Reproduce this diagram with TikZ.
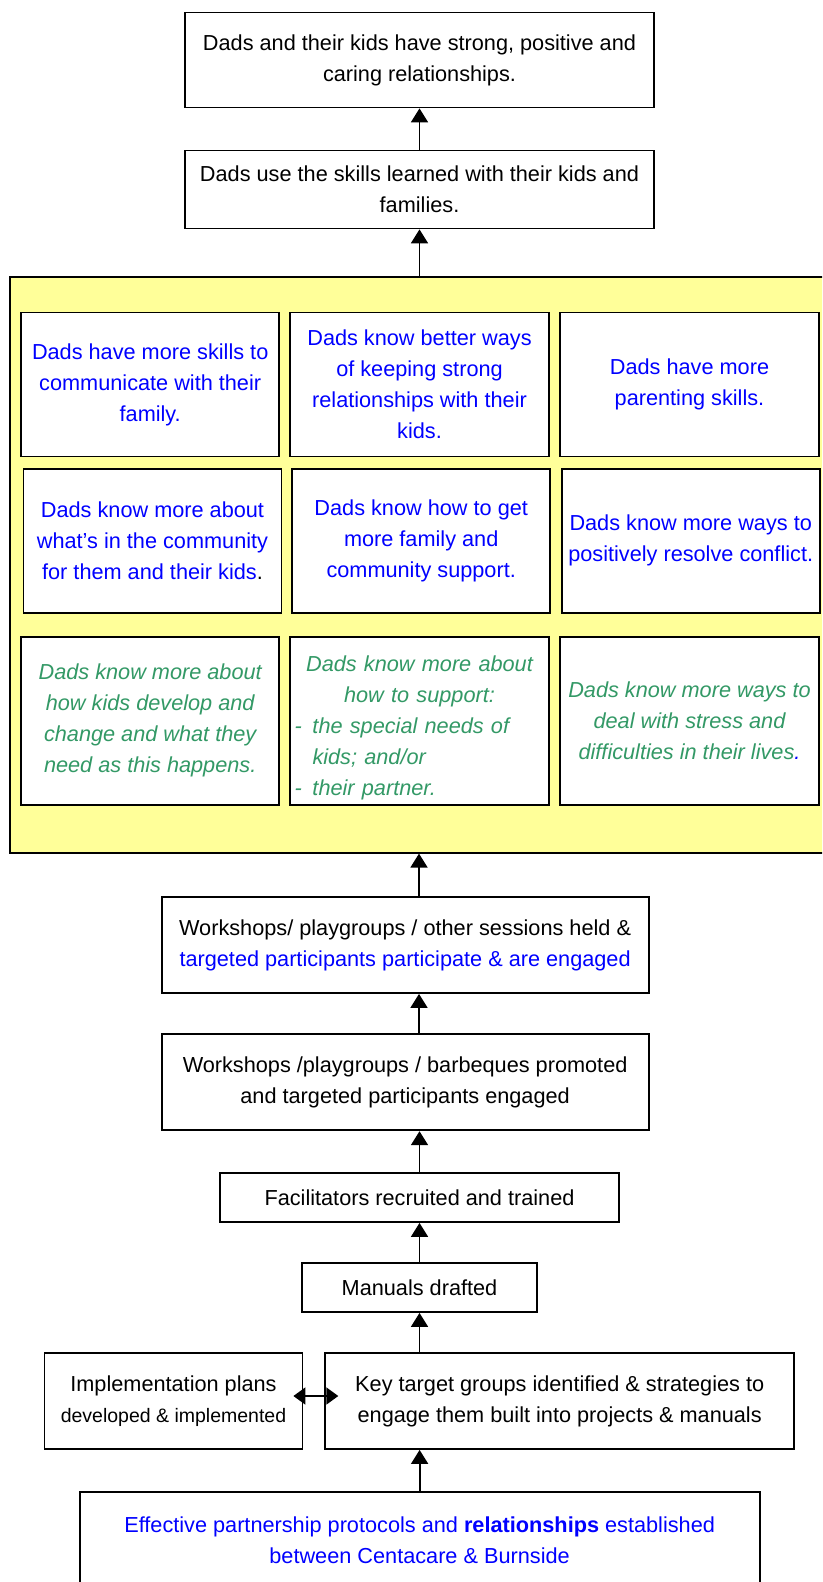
\documentclass[tikz,border=0pt]{standalone}
\usepackage{fontspec}
\setmainfont{Liberation Sans}
\usetikzlibrary{arrows.meta}
\definecolor{panelyellow}{RGB}{255,255,153}
\definecolor{outgreen}{RGB}{51,153,102}
\newcommand{\bodyfont}{\fontsize{21.7pt}{31pt}\selectfont}

\begin{document}
\begin{tikzpicture}[x=1pt,y=-1pt,
	goalbox/.style={draw,line width=1.8pt,fill=white,inner sep=4pt,align=center,font=\bodyfont},
	bluetxt/.style={text=blue},
	greentxt/.style={text=outgreen,font=\bodyfont\itshape},
	arr/.style={line width=1.8pt,-{Triangle[length=14pt,width=17pt]}},
	dbl/.style={line width=1.8pt,{Triangle[length=12pt,width=17pt]}-{Triangle[length=12pt,width=17pt]}}]
	\useasboundingbox (0,0) rectangle (822,1582);
	\clip (0,0) rectangle (822,1582);
	
	% outcomes at the top
	\node[goalbox,minimum width=469pt,minimum height=95pt] (top) at (419.5,60) 
	{Dads and their kids have strong, positive and\\caring relationships.};
	\node[goalbox,minimum width=469pt,minimum height=78pt] (mid) at (419.5,189.5) 
	{Dads use the skills learned with their kids and\\families.};
	
	% yellow panel with the nine boxes
	\node[draw,line width=1.8pt,fill=panelyellow,minimum width=840pt,minimum height=576pt] (panel) at (429.75,564.7) {};
	
	\node[goalbox,bluetxt,minimum width=258pt,minimum height=144pt] (skills) at (150.2,384.5) 
	{Dads have more skills to\\communicate with their\\family.};
	\node[goalbox,bluetxt,minimum width=259pt,minimum height=144pt] (ways) at (419.5,384.5) 
	{Dads know better ways\\of keeping strong\\relationships with their\\kids.};
	\node[goalbox,bluetxt,minimum width=259pt,minimum height=144pt] (parent) at (689.5,384.5) 
	{Dads have more\\parenting skills.};
	
	\node[goalbox,bluetxt,minimum width=258pt,minimum height=144pt] (commun) at (152.5,540.7) 
	{Dads know more about\\what’s in the community\\for them and their kids{\color{black}.}};
	\node[goalbox,bluetxt,minimum width=258pt,minimum height=144pt] (support) at (421.2,540.7) 
	{Dads know how to get\\more family and\\community support.};
	\node[goalbox,bluetxt,minimum width=258pt,minimum height=144pt] (conflict) at (690.7,540.7) 
	{Dads know more ways to\\positively resolve conflict.};
	
	\node[goalbox,greentxt,minimum width=258pt,minimum height=168pt] (develop) at (150.2,720.8) 
	{Dads know more about\\how kids develop and\\change and what they\\need as this happens.};
	\node[goalbox,greentxt,align=left,text width=250pt,text depth=114pt,minimum width=259pt,minimum height=168pt] (needs) at (419.5,720.8) 
	{{\centering Dads know more about\\how to support:\par}
		\makebox[18pt][l]{-}the special needs of\\
		\hspace*{18pt}kids; and/or\\
		\makebox[18pt][l]{-}their partner.};
	\node[goalbox,greentxt,minimum width=259pt,minimum height=168pt] (stress) at (689.5,720.8) 
	{Dads know more ways to\\deal with stress and\\difficulties in their lives{\color{blue}.}};
	
	% activities below the panel
	\node[goalbox,minimum width=487pt,minimum height=96pt] (sess) at (405.1,945) 
	{Workshops/ playgroups / other sessions held \&\\\textcolor{blue}{targeted participants participate \& are engaged}};
	\node[goalbox,minimum width=487pt,minimum height=96pt] (promo) at (405.1,1082.3) 
	{Workshops /playgroups / barbeques promoted\\and targeted participants engaged};
	\node[goalbox,minimum width=399pt,minimum height=49pt] (fac) at (419.5,1197.5) 
	{Facilitators recruited and trained};
	\node[goalbox,minimum width=235pt,minimum height=49pt] (man) at (419.5,1287.5) 
	{Manuals drafted};
	\node[goalbox,minimum width=258pt,minimum height=96pt] (impl) at (173.5,1401) 
	{Implementation plans\\{\fontsize{19.5pt}{29pt}\selectfont developed \& implemented}};
	\node[goalbox,minimum width=469pt,minimum height=96pt] (key) at (559.7,1401) 
	{Key target groups identified \& strategies to\\engage them built into projects \& manuals};
	\node[goalbox,bluetxt,minimum width=680pt,minimum height=98pt] (eff) at (419.6,1540.7) 
	{Effective partnership protocols and \textbf{relationships} established\\between Centacare \& Burnside};
	
	\coordinate (axis) at (419,0);
	\draw[arr] (mid.north) -- (top.south);
	\draw[arr] (panel.north -| mid.south) -- (mid.south);
	\draw[arr] (sess.north -| axis) -- (panel.south -| axis);
	\draw[arr] (promo.north -| axis) -- (sess.south -| axis);
	\draw[arr] (fac.north) -- (promo.south -| fac.north);
	\draw[arr] (man.north) -- (fac.south);
	\draw[arr] (key.north -| man.south) -- (man.south);
	\draw[arr] (eff.north) -- (key.south -| eff.north);
	\draw[dbl,shorten <=-10pt,shorten >=-14pt] ([yshift=5pt]impl.east) -- ([yshift=5pt]key.west);
\end{tikzpicture}
\end{document}
